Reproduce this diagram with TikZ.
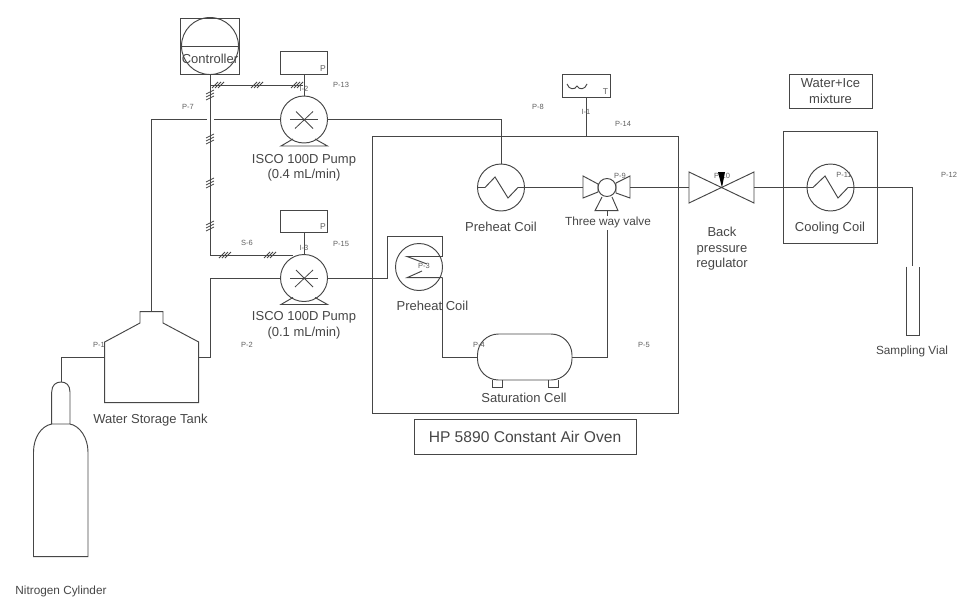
\documentclass[tikz,border=0pt]{standalone}
\usepackage{fontspec}
\setmainfont{Liberation Sans}
\usepackage{xcolor}
\definecolor{ink}{RGB}{70,70,70}
\definecolor{tagink}{RGB}{95,95,95}
\usetikzlibrary{positioning,calc}
\tikzset{
  pipe/.style={draw=ink,line width=0.95pt},
  unit_box/.style={rectangle,draw=ink,line width=0.95pt,inner sep=0pt},
  round_unit/.style={circle,draw=ink,line width=0.95pt,inner sep=0pt,minimum size=47pt},
  label_txt/.style={text=ink,align=center,inner sep=0pt,
    font=\fontsize{13}{15.5}\selectfont},
  tag/.style={text=tagink,inner sep=0pt,font=\fontsize{7.5}{9}\selectfont},
  gauge_tag/.style={text=tagink,inner sep=0pt,font=\fontsize{8.5}{10}\selectfont},
  hash_h/.pic={\foreach \d in {-3,0,3}
    \draw[draw=ink,line width=0.8pt] (\d-3,3) -- (\d+3,-3);},
  hash_v/.pic={\foreach \d in {-3,0,3}
    \draw[draw=ink,line width=0.8pt] (-4,\d+2) -- (4,\d-2);},
}
\begin{document}
\begin{tikzpicture}[x=1pt,y=-1pt]
  \useasboundingbox (0,0) rectangle (958,597);
  % Boxes around the units
  \node (oven) [unit_box,minimum width=306pt,minimum height=277pt] at (525,275.3) {};
  \node (oven_lbl) [unit_box,label_txt,font=\fontsize{15.6}{18}\selectfont,
    minimum width=222pt,minimum height=35pt] at (525,436.5) {HP 5890 Constant Air Oven};
  \node (bath) [unit_box,minimum width=94pt,minimum height=112pt] at (830,187) {};
  \node (bath_lbl) [unit_box,label_txt,minimum width=83pt,minimum height=34pt] at (830.5,91)
    {Water+Ice\\ mixture};
  % Controller
  \node (ctrl_box) [unit_box,minimum width=58.5pt,minimum height=56pt] at (210,46) {};
  \node (ctrl) [round_unit,minimum size=57pt] at (210,46) {};
  \draw[pipe] (ctrl_box.west) -- (ctrl_box.east);
  \node (ctrl_lbl) [label_txt] at (210,59) {Controller};
  % Pumps and pressure gauges
  \foreach \pname/\py/\gy in {pump_a/119.5/63,pump_b/278/221.5}{
    \node (\pname) [round_unit] at (304,\py) {};
    \node (\pname_g) [unit_box,minimum width=47pt,minimum height=22.5pt] at (304,\gy) {};
    \node (\pname_gp) [gauge_tag] at (323,\gy+5.5) {P};
    \draw[pipe] (\pname_g) -- (\pname);
    \draw[pipe] (293,\py+19.5) -- (281,\py+26.5) -- (327.5,\py+26.5) -- (315,\py+19.5);
    \draw[pipe,line width=0.8pt] (290,\py) -- (318,\py);
    \draw[pipe,line width=0.8pt] (295,\py+9) -- (313,\py-8);
    \draw[pipe,line width=0.8pt] (296,\py-8) -- (313,\py+9);
  }
  \node (pump_a_lbl) [label_txt] at (304,168) {ISCO 100D Pump\\ (0.4 mL/min)};
  \node (pump_b_lbl) [label_txt] at (304,325.5) {ISCO 100D Pump\\ (0.1 mL/min)};
  % Signal lines
  \coordinate (sig_a) at (303,85);
  \coordinate (sig_b) at (292.5,255);
  \draw[pipe] (ctrl_box.south) -- (210,255) -- (sig_b);
  \draw[pipe] (210,85) -- (sig_a);
  \foreach \hx in {218,257,297} \pic at (\hx,85) {hash_h};
  \foreach \hx in {225,270} \pic at (\hx,255) {hash_h};
  \foreach \hy in {95,139,183,226} \pic at (210,\hy) {hash_v};
  % Storage tank
  \coordinate (tank_top) at (151.5,311.7);
  \coordinate (tank_in) at (104.7,357);
  \coordinate (tank_out) at (198.7,357);
  \draw[pipe] (104.7,342) -- (140,323) -- (140,311.7) -- (163,311.7) -- (163,323)
    -- (198.7,342) -- (198.7,402.7) -- (104.7,402.7) -- cycle;
  \node (tank_lbl) [label_txt] at (150.5,420) {Water Storage Tank};
  % Nitrogen cylinder
  \coordinate (cyl_top) at (61,382);
  \draw[pipe] (51.7,424) -- (51.7,392) .. controls (51.7,385) and (56,382) .. (cyl_top)
    .. controls (66,382) and (70,385) .. (70,392) -- (70,424) -- cycle;
  \draw[pipe] (51.7,424) .. controls (41,426) and (33.5,438) .. (33.5,452)
    -- (33.5,556.7) -- (88,556.7) -- (88,452)
    .. controls (88,438) and (80,426) .. (70,424);
  \node (cyl_lbl) [label_txt,font=\fontsize{11.8}{14}\selectfont] at (61,591) {Nitrogen Cylinder};
  % Preheat coils
  \node (coil_a) [round_unit] at (501,187.5) {};
  \draw[pipe] (coil_a.west) -- (485,187.5) -- (495,177) -- (508,198) -- (518,187.5) -- (coil_a.east);
  \node (coil_a_lbl) [label_txt] at (501,227) {Preheat Coil};
  \node (coil_b) [round_unit] at (419,267) {};
  \coordinate (coil_b_in) at (442.7,256.5);
  \coordinate (coil_b_out) at (442.7,277.7);
  \draw[pipe] (coil_b_in) -- (407,256.5) -- (427,264);
  \draw[pipe] (422,271) -- (407,277.7) -- (coil_b_out);
  \node (coil_b_lbl) [label_txt] at (432.5,306) {Preheat Coil};
  % Three way valve
  \coordinate (valve_in) at (583,187.5);
  \coordinate (valve_out) at (630,187.5);
  \coordinate (valve_low) at (607,230);
  \node (valve) [round_unit,minimum size=18pt] at (607,187.5) {};
  \draw[pipe] (583,176) -- (598,184) -- (598,192) -- (583,198) -- cycle;
  \draw[pipe] (630,176) -- (616,183) -- (616,193) -- (630,198) -- cycle;
  \draw[pipe] (602,197) -- (595,210.7) -- (618,210.7) -- (612,197);
  \draw[pipe] (607,210.7) -- (607,216);
  \node (valve_lbl) [label_txt,font=\fontsize{11.8}{14}\selectfont] at (608,222) {Three way valve};
  % Saturation cell
  \node (cell) [unit_box,rounded corners=21pt,minimum width=94.5pt,minimum height=46pt] at (524.75,357) {};
  \draw[pipe] (492,380) -- (492,387) -- (502,387) -- (502,380);
  \draw[pipe] (548,380) -- (548,387) -- (558,387) -- (558,380);
  \node (cell_lbl) [label_txt] at (524,397.5) {Saturation Cell};
  % Temperature gauge
  \node (temp) [unit_box,minimum width=47.5pt,minimum height=23pt] at (586.5,85.5) {};
  \node (temp_t) [gauge_tag] at (605.5,91.5) {T};
  \draw[pipe] (567,84) .. controls (569,90) and (575,90) .. (577,86)
    .. controls (579,90) and (585,90) .. (587,84);
  \draw[pipe] (temp) -- (586.5,136.7);
  % Back pressure regulator
  \coordinate (bpr_in) at (689,187.5);
  \coordinate (bpr_out) at (754,187.5);
  \draw[pipe] (bpr_in) -- (689,172) -- (754,203) -- (754,172) -- (689,203) -- cycle;
  \node (tag_p10) [tag] at (722,175.5) {P-10};
  \path[fill=black] (718,172) -- (725,172) -- (722,187.5) -- cycle;
  \node (bpr_lbl) [label_txt] at (722,249) {Back\\ pressure\\ regulator};
  % Cooling coil
  \node (coil_c) [round_unit] at (830.5,187.5) {};
  \draw[pipe] (coil_c.west) -- (813,187.5) -- (825,176) -- (838,198) -- (848,187.5) -- (coil_c.east);
  \node (coil_c_lbl) [label_txt] at (830,228) {Cooling Coil};
  % Sampling vial
  \coordinate (vial_in) at (912.5,266);
  \draw[pipe] (906,266.7) -- (906,335) -- (919,335) -- (919,266.7);
  \node (vial_lbl) [label_txt,font=\fontsize{11.8}{14}\selectfont] at (912,351) {Sampling Vial};
  % Pipes
  \draw[pipe] (cyl_top) |- (tank_in);
  \coordinate (gap_l) at (207,119.5);
  \coordinate (gap_r) at (214,119.5);
  \draw[pipe] (tank_top) |- (gap_l);
  \draw[pipe] (gap_r) -- (pump_a.west);
  \draw[pipe] (pump_a.east) -| (coil_a.north);
  \draw[pipe] (coil_a.east) -- (valve_in);
  \draw[pipe] (valve_out) -- (bpr_in);
  \draw[pipe] (bpr_out) -- (coil_c.west);
  \draw[pipe] (coil_c.east) -| (vial_in);
  \draw[pipe] (tank_out) -| (210,278) -- (pump_b.west);
  \draw[pipe] (pump_b.east) -- (387.5,278) |- (442.7,236.7) -- (coil_b_in);
  \draw[pipe] (coil_b_out) |- (cell.west);
  \draw[pipe] (cell.east) -| (valve_low);
  % Tags
  \foreach \tx/\ty/\tname in {188/107/P-7,341/85/P-13,304/89/I-2,247/243/S-6,
    341/243.5/P-15,304/248/I-3,247/345/P-2,99/345/P-1,424/266/P-3,479/345/P-4,
    644/345/P-5,538/107/P-8,623/124/P-14,586/112/I-1,620/176/P-9,844/175/P-11,
    949/175/P-12}
    \node (tag\tname) [tag] at (\tx,\ty) {\tname};
\end{tikzpicture}
\end{document}
